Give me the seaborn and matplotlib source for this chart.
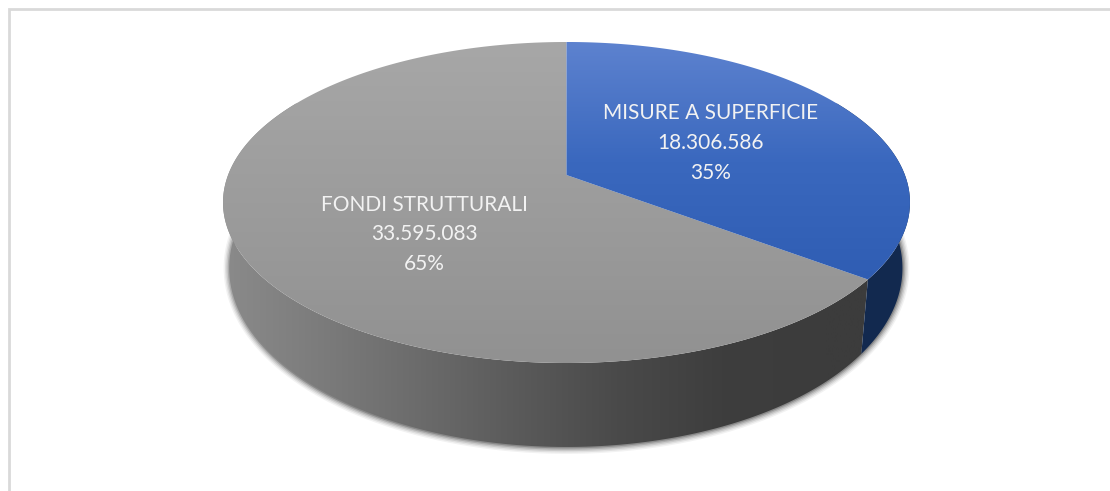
import numpy as np
import matplotlib
matplotlib.use("Agg")
import matplotlib.pyplot as plt
from matplotlib.patches import Polygon
import seaborn as sns

# data
labels = ["MISURE A SUPERFICIE", "FONDI STRUTTURALI"]
values = [18306586, 33595083]
value_text = ["18.306.586", "33.595.083"]

sns.set_theme(style="white")
plt.rcParams["font.family"] = ["Lato", "DejaVu Sans"]

W, H = 1110, 491
fig = plt.figure(figsize=(W / 100, H / 100), dpi=100)
ax = fig.add_axes([0, 0, 1, 1])
ax.axis("off")

# perspective of the disc: a circle seen from the front, far side is smaller
k = 0.1713
cx = 566.5


def rim(theta, a, b, cy, r=1.0):
    # theta in degrees, clockwise from the top
    t = np.radians(theta)
    u = r * np.sin(t)
    v = r * np.cos(t)
    w = 1 + k * v
    return np.column_stack([cx + a * u / w, cy - b * v / w])


def top(theta):
    return rim(theta, 338.4, 155.8, 175)


def bottom(theta):
    return rim(theta, 331, 173.6, 237.5)


def gradient(cmap, clip, extent, vertical=True):
    g = np.linspace(0, 1, 256)
    g = g[:, None] if vertical else g[None, :]
    im = ax.imshow(g, cmap=cmap, extent=extent, aspect="auto",
                   interpolation="bilinear", vmin=0, vmax=1, zorder=2)
    im.set_clip_path(clip)


share = values[0] / sum(values)
edge = share * 360

# soft shadow under the side
sh = bottom(np.linspace(55, 305, 300))
for lw, al in zip([10, 8, 6, 4, 2], [0.05, 0.07, 0.1, 0.14, 0.2]):
    ax.plot(sh[:, 0], sh[:, 1], color="black", lw=lw, alpha=al, zorder=1,
            solid_capstyle="butt")

# side of the grey slice
th = np.linspace(edge, 300, 200)
pts = np.vstack([top(th), bottom(th)[::-1]])
p = Polygon(pts, closed=True, fc="none", ec="none")
ax.add_patch(p)
side_grey = sns.blend_palette(["#8e8e8e", "#7e7e7e", "#6d6d6d", "#5b5b5b", "#4a4a4a", "#3e3e3e", "#3c3c3c", "#3c3c3c"],
                              as_cmap=True)
gradient(side_grey, p, [200, 930, 460, 30], vertical=False)

# side of the blue slice
th = np.linspace(60, edge, 80)
pts = np.vstack([top(th), bottom(th)[::-1]])
ax.add_patch(Polygon(pts, closed=True, fc="#12294f", ec="none", zorder=2))

# top face, both slices
th = np.linspace(edge, 360, 300)
p = Polygon(np.vstack([[[cx, 175]], top(th)]), closed=True, fc="none", ec="none")
ax.add_patch(p)
gradient(sns.blend_palette(["#a7a7a7", "#919191"], as_cmap=True), p, [200, 930, 364, 42])

th = np.linspace(0, edge, 150)
p = Polygon(np.vstack([[[cx, 175]], top(th)]), closed=True, fc="none", ec="none")
ax.add_patch(p)
gradient(sns.blend_palette(["#5d82cf", "#3a68be", "#2f5db3"], as_cmap=True), p, [200, 930, 282, 42])

# labels
label_pos = [(711, 143), (424, 234.5)]
for name, txt, val, (x, y) in zip(labels, value_text, values, label_pos):
    pct = round(val / sum(values) * 100)
    ax.text(x, y, f"{name}\n{txt}\n{pct}%", color="#f2f2f2", fontsize=15,
            ha="center", va="center", linespacing=1.62, zorder=5)

# frame of the chart area, only top and left are in the picture
ax.plot([9, 9, W], [H, 9, 9], color="#d9d9d9", lw=2, zorder=0,
        solid_joinstyle="miter")

ax.set_xlim(0, W)
ax.set_ylim(H, 0)
fig.savefig("out.png", dpi=100, facecolor="white")
